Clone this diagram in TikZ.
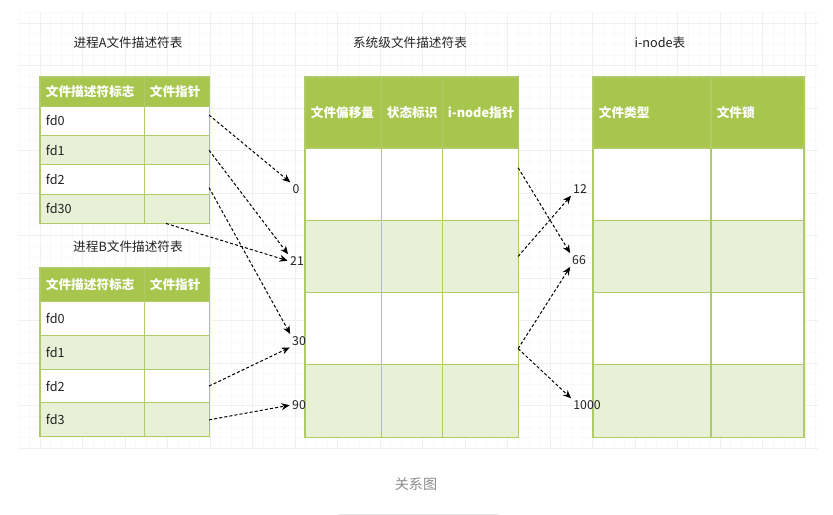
\documentclass[tikz,border=0pt]{standalone}
\usepackage{fontspec}
\setmainfont{Noto Sans CJK SC}
\usepackage{xcolor}
\usetikzlibrary{arrows.meta,positioning}
\definecolor{grnhead}{HTML}{A8C64E}
\definecolor{grnrow}{HTML}{E8F0D6}
\definecolor{grnline}{HTML}{AFCB68}
\definecolor{txt}{HTML}{222222}
\tikzset{
  cell/.style    = {rectangle, draw=grnline, line width=0.9pt, outer sep=0pt,
                    inner xsep=5pt, inner ysep=0pt, align=left, text=txt,
                    font=\fontsize{10.8}{12}\selectfont},
  hd/.style      = {cell, fill=grnhead, text=white,
                    font=\fontsize{10.8}{12}\selectfont\bfseries},
  wt/.style      = {cell, fill=white},
  lg/.style      = {cell, fill=grnrow},
  colFd/.style   = {text width=78.8pt},
  colPtr/.style  = {text width=45.5pt},
  colOff/.style  = {text width=54.9pt},
  colStat/.style = {text width=42.1pt},
  colIno/.style  = {text width=54.9pt},
  colType/.style = {text width=90.7pt},
  colLock/.style = {text width=69.4pt},
  rowA/.style    = {minimum height=25pt},
  rowB/.style    = {minimum height=28.8pt},
  headBig/.style = {minimum height=60.6pt},
  rowBig/.style  = {minimum height=61.7pt},
  ttl/.style     = {font=\fontsize{10.8}{12}\selectfont, text=txt},
  num/.style     = {inner sep=1pt, font=\fontsize{10.5}{11}\selectfont, text=txt},
  fl/.style      = {-{Stealth[length=7pt,width=6pt]}, line width=0.85pt,
                    dash pattern=on 2.6pt off 1.8pt, shorten >=1pt},
}

\begin{document}
\begin{tikzpicture}[x=0.03cm, y=-0.03cm, node distance=0pt]
  \useasboundingbox (0,0) rectangle (833,515);
  % 背景网格
  \begin{scope}
    \clip (18,12) rectangle (818,449);
    \foreach \x in {18.75,29.375,...,818} \draw[black!2.5, line width=0.4pt] (\x,12) -- (\x,449);
    \foreach \y in {12.375,23,...,449} \draw[black!2.5, line width=0.4pt] (18,\y) -- (818,\y);
    \foreach \x in {40,82.5,...,818} \draw[black!6, line width=0.5pt] (\x,12) -- (\x,449);
    \foreach \y in {23,65.5,...,449} \draw[black!6, line width=0.5pt] (18,\y) -- (818,\y);
  \end{scope}

  % 进程A文件描述符表
  \node[ttl] (tA) at (128,43) {进程A文件描述符表};
  \node[hd, colFd, rowA, anchor=north west] (af0) at (40,77) {文件描述符标志};
  \node[hd, colPtr, rowA, right=of af0] (ap0) {文件指针};
  \foreach \i/\t/\st in {1/fd0/wt,2/fd1/lg,3/fd2/wt,4/fd30/lg}{
    \pgfmathtruncatemacro\j{\i-1}
    \node[\st, colFd, rowA, below=of af\j] (af\i) {\t};
    \node[\st, colPtr, rowA, right=of af\i] (ap\i) {};
  }

  % 进程B文件描述符表
  \node[ttl] (tB) at (128,247) {进程B文件描述符表};
  \node[hd, colFd, rowB, anchor=north west] (bf0) at (40,268) {文件描述符标志};
  \node[hd, colPtr, rowB, right=of bf0] (bp0) {文件指针};
  \foreach \i/\t/\st in {1/fd0/wt,2/fd1/lg,3/fd2/wt,4/fd3/lg}{
    \pgfmathtruncatemacro\j{\i-1}
    \node[\st, colFd, rowB, below=of bf\j] (bf\i) {\t};
    \node[\st, colPtr, rowB, right=of bf\i] (bp\i) {};
  }

  % 系统级文件描述符表
  \node[ttl] (tS) at (410,43) {系统级文件描述符表};
  \node[hd, colOff, headBig, anchor=north west] (sa0) at (305,77) {文件偏移量};
  \node[hd, colStat, headBig, right=of sa0] (sb0) {状态标识};
  \node[hd, colIno, headBig, right=of sb0] (sc0) {\mbox{i-node指针}};
  \foreach \i/\st in {1/wt,2/lg,3/wt,4/lg}{
    \pgfmathtruncatemacro\j{\i-1}
    \node[\st, colOff, rowBig, below=of sa\j] (sa\i) {};
    \node[\st, colStat, rowBig, right=of sa\i] (sb\i) {};
    \node[\st, colIno, rowBig, right=of sb\i] (sc\i) {};
  }

  % i-node表
  \node[ttl] (tI) at (660,43) {i-node表};
  \node[hd, colType, headBig, anchor=north west] (ia0) at (593,77) {文件类型};
  \node[hd, colLock, headBig, right=of ia0] (ib0) {文件锁};
  \foreach \i/\st in {1/wt,2/lg,3/wt,4/lg}{
    \pgfmathtruncatemacro\j{\i-1}
    \node[\st, colType, rowBig, below=of ia\j] (ia\i) {};
    \node[\st, colLock, rowBig, right=of ia\i] (ib\i) {};
  }

  % 编号
  \node[num] (l0)    at (296,189) {0};
  \node[num] (l21)   at (297,261) {21};
  \node[num] (l30)   at (299,341) {30};
  \node[num] (l90)   at (299,405) {90};
  \node[num] (l12)   at (580,189) {12};
  \node[num] (l66)   at (579,260) {66};
  \node[num] (l1000) at (587,405) {1000};

  % 指向关系
  \draw[fl] ([yshift=5pt]ap1.east) -- (l0.north west);
  \draw[fl] (ap2.east) -- (l21.north west);
  \draw[fl] ([yshift=-7pt]ap3.east) -- (l30.north west);
  \draw[fl] ([xshift=-9pt]ap4.south) -- (l21.west);
  \draw[fl] (bp3.east) -- (l30.south west);
  \draw[fl] (bp4.east) -- (l90.west);
  \draw[fl] ([yshift=14pt]sc1.east) -- (l66.north west);
  \draw[fl] (sc2.east) -- (l12.south west);
  \draw[fl] ([yshift=-17pt]sc3.east) -- (l66.south west);
  \draw[fl] ([yshift=-17pt]sc3.east) -- (l1000.north west);

  % 图注
  \node[font=\fontsize{12}{14}\selectfont, text=black!45] (cap) at (416,484) {关系图};
  \draw[black!10, line width=0.8pt] (338,514) -- (498,514);
\end{tikzpicture}
\end{document}
